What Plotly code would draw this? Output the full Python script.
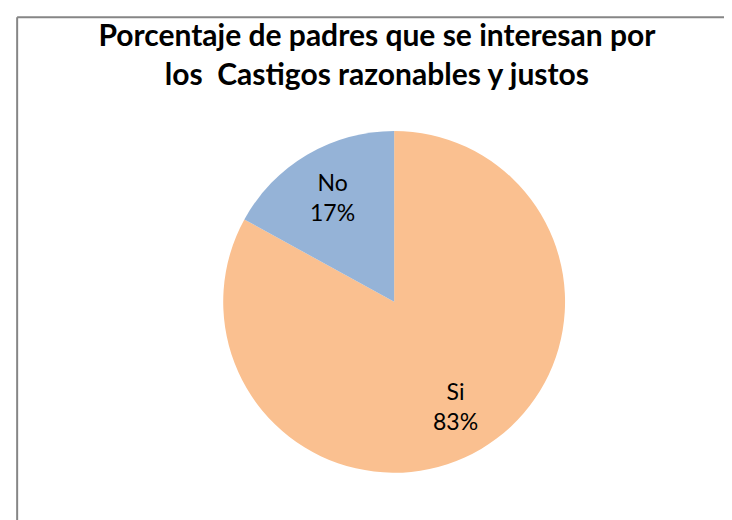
import math
import plotly.graph_objects as go

labels = ["Si", "No"]
values = [83, 17]
colors = ["#FAC090", "#95B3D7"]

title_text = "Porcentaje de padres que se interesan por<br>los  Castigos razonables y justos"

W, H = 732, 520
# pie placement (paper fractions)
dom_x = [0.294, 0.761]
dom_y = [0.106, 0.764]
radius_px = (dom_x[1] - dom_x[0]) * W / 2
cx = (dom_x[0] + dom_x[1]) / 2
cy = (dom_y[0] + dom_y[1]) / 2

fig = go.Figure()
fig.add_trace(go.Pie(
    labels=labels,
    values=values,
    sort=False,
    direction="clockwise",
    rotation=0,
    marker=dict(colors=colors, line=dict(width=0)),
    textinfo="none",
    domain=dict(x=dom_x, y=dom_y),
    showlegend=False,
    hoverinfo="label+percent",
))

# data labels at the middle angle of each slice, like the spreadsheet chart
total = sum(values)
start = 0.0
annotations = []
for lab, val in zip(labels, values):
    mid = (start + val / 2) / total * 2 * math.pi
    start += val
    r = 0.71 * radius_px
    annotations.append(dict(
        x=cx + r * math.sin(mid) / W,
        y=cy + r * math.cos(mid) / H,
        xref="paper", yref="paper",
        xanchor="center", yanchor="middle",
        text=f"{lab}<br>{round(val / total * 100)}%",
        showarrow=False,
        font=dict(family="Lato", size=23, color="black"),
    ))

fig.update_layout(
    width=W,
    height=H,
    margin=dict(l=0, r=0, t=0, b=0),
    paper_bgcolor="white",
    plot_bgcolor="white",
    title=dict(
        text=title_text,
        x=0.504,
        xanchor="center",
        y=0.927,
        yanchor="top",
        font=dict(family="Lato", size=30, color="black", weight="bold"),
    ),
    annotations=annotations,
    shapes=[
        # chart frame, only left and top edges are visible
        dict(type="line", xref="paper", yref="paper", x0=0.0125, x1=1.0, y0=0.982, y1=0.982,
             line=dict(color="#868686", width=2)),
        dict(type="line", xref="paper", yref="paper", x0=0.0125, x1=0.0125, y0=0.0, y1=0.982,
             line=dict(color="#868686", width=2)),
    ],
)

fig.write_html("out.html")
